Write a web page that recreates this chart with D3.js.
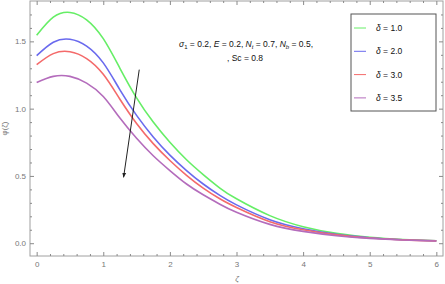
<!DOCTYPE html>
<html><head><meta charset="utf-8">
<script src="https://cdn.jsdelivr.net/npm/d3@7"></script>
<style>
body{margin:0;background:#fff;}
text{font-family:"Liberation Sans",Arial,sans-serif;}
</style></head>
<body><svg id="c" width="445" height="284"></svg>
<script>
const zeta = [0,0.25,0.5,0.75,1,1.25,1.5,1.75,2,2.25,2.5,2.75,3,3.5,4,4.5,5,5.5,6];
const phiDelta10 = [1.545,1.68,1.715,1.66,1.52,1.30,1.08,0.90,0.75,0.62,0.51,0.41,0.33,0.205,0.123,0.073,0.044,0.028,0.018];
const phiDelta20 = [1.394,1.494,1.516,1.465,1.34,1.14,0.95,0.79,0.655,0.54,0.44,0.355,0.285,0.175,0.108,0.066,0.041,0.026,0.018];
const phiDelta30 = [1.327,1.409,1.423,1.372,1.255,1.07,0.89,0.74,0.615,0.505,0.41,0.33,0.265,0.16,0.10,0.062,0.039,0.025,0.017];
const phiDelta35 = [1.195,1.24,1.24,1.19,1.09,0.93,0.78,0.65,0.54,0.44,0.36,0.29,0.23,0.14,0.088,0.056,0.036,0.024,0.016];
const seriesLabels = ["1.0","2.0","3.0","3.5"];
const xTicks = [0,1,2,3,4,5,6];
const yTicks = [0.0,0.5,1.0,1.5];
const arrowFrom = [1.54,1.29];
const arrowTo = [1.305,0.49];

const series = [phiDelta10,phiDelta20,phiDelta30,phiDelta35];
const colors = ["#66ee66","#6a6aee","#f46a6a","#b46cbc"];

const svg = d3.select("#c");
const L=30,R=443,T=1,B=256;
const x = d3.scaleLinear().domain([-0.1,6.1]).range([L,R]);
const y = d3.scaleLinear().domain([-0.095,1.8]).range([B,T]);
const axisCol="#8a8a8a", labCol="#777";

// curves
const line = d3.line().x((d,i)=>x(zeta[i])).y(d=>y(d)).curve(d3.curveNatural);
series.forEach((s,k)=>{
  svg.append("path").attr("d",line(s)).attr("fill","none")
    .attr("stroke",colors[k]).attr("stroke-width",1.6);
});

// frame
svg.append("rect").attr("x",L).attr("y",T).attr("width",R-L).attr("height",B-T)
  .attr("fill","none").attr("stroke","#a0a0a0").attr("stroke-width",1);

function styleAxis(g){
  g.select(".domain").remove();
  g.selectAll(".tick line").attr("stroke",axisCol);
  g.selectAll(".tick text").attr("fill",labCol).style("font-size","8px");
}
const xMinor = d3.range(-0.0,6.01,0.2).map(v=>+v.toFixed(1)).filter(v=>!xTicks.includes(v));
const yMinor = d3.range(-0.0,1.75,0.1).map(v=>+v.toFixed(1)).filter(v=>!yTicks.includes(v));

svg.append("g").attr("transform",`translate(0,${B})`)
  .call(d3.axisBottom(x).tickValues(xTicks).tickSize(-4).tickPadding(5).tickFormat(d3.format("d"))).call(styleAxis);
svg.append("g").attr("transform",`translate(0,${B})`)
  .call(d3.axisBottom(x).tickValues(xMinor).tickSize(-2).tickFormat("")).call(styleAxis);
svg.append("g").attr("transform",`translate(0,${T})`)
  .call(d3.axisTop(x).tickValues(xTicks).tickSize(-4).tickFormat("")).call(styleAxis);
svg.append("g").attr("transform",`translate(0,${T})`)
  .call(d3.axisTop(x).tickValues(xMinor).tickSize(-2).tickFormat("")).call(styleAxis);

svg.append("g").attr("transform",`translate(${L},0)`)
  .call(d3.axisLeft(y).tickValues(yTicks).tickSize(-4).tickPadding(4).tickFormat(d3.format(".1f"))).call(styleAxis);
svg.append("g").attr("transform",`translate(${L},0)`)
  .call(d3.axisLeft(y).tickValues(yMinor).tickSize(-2).tickFormat("")).call(styleAxis);
svg.append("g").attr("transform",`translate(${R},0)`)
  .call(d3.axisRight(y).tickValues(yTicks).tickSize(-4).tickFormat("")).call(styleAxis);
svg.append("g").attr("transform",`translate(${R},0)`)
  .call(d3.axisRight(y).tickValues(yMinor).tickSize(-2).tickFormat("")).call(styleAxis);

// axis labels
svg.append("text").attr("x",(L+R)/2+0.5).attr("y",281).attr("text-anchor","middle")
  .attr("fill",labCol).style("font-size","8px").style("font-style","italic").text("ζ");
svg.append("text").attr("transform",`translate(7,${(T+B)/2}) rotate(-90)`).attr("text-anchor","middle")
  .attr("fill",labCol).style("font-size","8px").text("φ(ζ)");

// arrow
svg.append("defs").append("marker").attr("id","ah").attr("viewBox","0 0 10 10")
  .attr("refX",9).attr("refY",5).attr("markerWidth",5).attr("markerHeight",6).attr("orient","auto")
  .append("path").attr("d","M0,1 L10,5 L0,9 Z").attr("fill","#222");
svg.append("line").attr("x1",x(arrowFrom[0])).attr("y1",y(arrowFrom[1]))
  .attr("x2",x(arrowTo[0])).attr("y2",y(arrowTo[1]))
  .attr("stroke","#222").attr("stroke-width",1).attr("marker-end","url(#ah)");

// annotation
const ann = svg.append("text").attr("x",246).attr("y",47).attr("text-anchor","middle")
  .attr("fill","#111").style("font-size","8.5px");
function part(t,s){ const e=ann.append("tspan").text(t); if(s) for(const k in s) e.style(k,s[k]); return e;}
part("σ",{"font-style":"italic"});
ann.append("tspan").attr("dy",2).style("font-size","6px").text("1");
ann.append("tspan").attr("dy",-2).text(" = 0.2, ");
part("E",{"font-style":"italic"}); part(" = 0.2, ");
part("N",{"font-style":"italic"});
ann.append("tspan").attr("dy",2).style("font-size","6px").style("font-style","italic").text("t");
ann.append("tspan").attr("dy",-2).text(" = 0.7, ");
part("N",{"font-style":"italic"});
ann.append("tspan").attr("dy",2).style("font-size","6px").style("font-style","italic").text("b");
ann.append("tspan").attr("dy",-2).text(" = 0.5,");
svg.append("text").attr("x",245).attr("y",61).attr("text-anchor","middle")
  .attr("fill","#111").style("font-size","8.5px").text(", Sc = 0.8");

// legend
const lg = svg.append("g");
lg.append("rect").attr("x",351).attr("y",14).attr("width",85).attr("height",97)
  .attr("fill","#fff").attr("stroke","#555").attr("stroke-width",1);
seriesLabels.forEach((lab,k)=>{
  const yy = 28 + k*23.3;
  lg.append("line").attr("x1",354).attr("x2",366).attr("y1",yy).attr("y2",yy)
    .attr("stroke",colors[k]).attr("stroke-width",1);
  const t = lg.append("text").attr("x",376).attr("y",yy+3).attr("fill","#111").style("font-size","8.5px");
  t.append("tspan").style("font-style","italic").text("δ");
  t.append("tspan").text(" = "+lab);
});
</script></body></html>
